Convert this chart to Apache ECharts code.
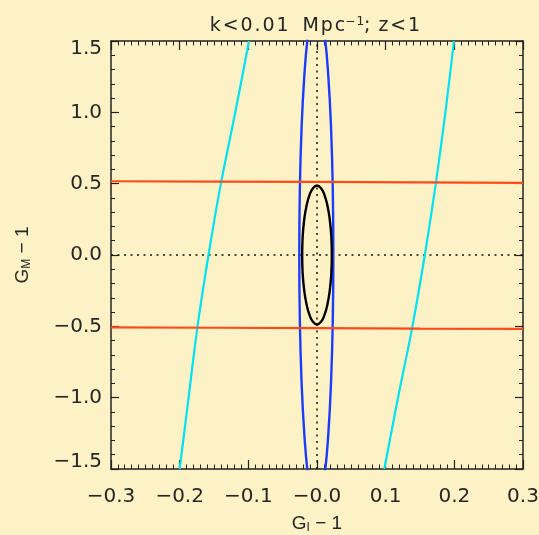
<!DOCTYPE html>
<html>
<head>
<meta charset="utf-8">
<script src="https://cdn.jsdelivr.net/npm/echarts@6/dist/echarts.min.js"></script>
<style>
html,body{margin:0;padding:0;background:#fdf1c6;}
#chart{width:539px;height:535px;}
</style>
</head>
<body>
<div id="chart"></div>
<script>
// Tick labels
const xTickLabels = ["\u22120.3", "\u22120.2", "\u22120.1", "\u22120.0", "0.1", "0.2", "0.3"];
const yTickLabels = ["\u22121.5", "\u22121.0", "\u22120.5", "0.0", "0.5", "1.0", "1.5"];

// Cyan contours (x values at given y)
const cyanY = [1.5, 1.0, 0.5, 0.0, -0.5, -1.0, -1.5];
const cyanLeftX = [-0.099, -0.119, -0.140, -0.158, -0.174, -0.187, -0.200];
const cyanRightX = [0.1995, 0.187, 0.173, 0.157, 0.139, 0.118, 0.098];

// Orange-red contours
const orangeX = [-0.3, -0.15, 0.0, 0.15, 0.3];
const orangeUpperY = [0.517, 0.515, 0.512, 0.509, 0.506];
const orangeLowerY = [-0.507, -0.510, -0.513, -0.516, -0.518];

// Blue ellipse outline points (x, y)
const blueX = [0.0238, 0.0230, 0.0205, 0.0165, 0.0114, 0.0054, -0.0010, -0.0074, -0.0134, -0.0185, -0.0225, -0.0250, -0.0258,
               -0.0250, -0.0225, -0.0185, -0.0134, -0.0074, -0.0010, 0.0054, 0.0114, 0.0165, 0.0205, 0.0230, 0.0238];
const blueY = [0.0, 0.458, 0.885, 1.252, 1.533, 1.710, 1.770, 1.710, 1.533, 1.252, 0.885, 0.458, 0.0,
               -0.458, -0.885, -1.252, -1.533, -1.710, -1.770, -1.710, -1.533, -1.252, -0.885, -0.458, 0.0];

// Black ellipse outline points (x, y)
const blackX = [0.0216, 0.0209, 0.0187, 0.0153, 0.0108, 0.0056, 0.0, -0.0056, -0.0108, -0.0153, -0.0187, -0.0209, -0.0216,
                -0.0209, -0.0187, -0.0153, -0.0108, -0.0056, 0.0, 0.0056, 0.0108, 0.0153, 0.0187, 0.0209, 0.0216];
const blackY = [0.0, 0.126, 0.244, 0.344, 0.422, 0.470, 0.487, 0.470, 0.422, 0.344, 0.244, 0.126, 0.0,
                -0.126, -0.244, -0.344, -0.422, -0.470, -0.487, -0.470, -0.422, -0.344, -0.244, -0.126, 0.0];

// Reference dotted lines
const vDotX = [0, 0];
const vDotY = [-1.5, 1.5];
const hDotX = [-0.3, 0.3];
const hDotY = [0, 0];

function zip(xs, ys) { return xs.map((x, i) => [x, ys[i]]); }

const FONT = 'DejaVu Sans';
const NFONT = 'Liberation Sans';
const TXT = '#262626';
const AX = '#222222';

const chart = echarts.init(document.getElementById('chart'), null, {renderer: 'canvas'});

function xAxisBase(pos, showLabels) {
  return {
    type: 'value', position: pos, min: -0.3, max: 0.3, interval: 0.1,
    axisLine: {show: true, onZero: false, lineStyle: {color: AX, width: 1.5}},
    axisTick: {show: true, inside: true, length: 9, lineStyle: {color: AX, width: 1.2}},
    minorTick: {show: true, splitNumber: 10, length: 4.5, lineStyle: {color: AX, width: 1}},
    splitLine: {show: false},
    axisLabel: {
      show: showLabels, margin: 18, fontFamily: FONT, fontSize: 20, color: TXT,
      formatter: v => xTickLabels[Math.round((v + 0.3) * 10)]
    }
  };
}
function yAxisBase(pos, showLabels) {
  return {
    type: 'value', position: pos, min: -1.5, max: 1.5, interval: 0.5,
    axisLine: {show: true, onZero: false, lineStyle: {color: AX, width: 1.5}},
    axisTick: {show: true, inside: true, length: 8, lineStyle: {color: AX, width: 1.2}},
    minorTick: {show: true, splitNumber: 5, length: 4, lineStyle: {color: AX, width: 1}},
    splitLine: {show: false},
    axisLabel: {
      show: showLabels, margin: 9, fontFamily: FONT, fontSize: 20, color: TXT, lineHeight: 15,
      verticalAlignMaxLabel: 'top', verticalAlignMinLabel: 'bottom',
      formatter: v => yTickLabels[Math.round((v + 1.5) * 2)]
    }
  };
}

const nameRich = {
  n: {fontFamily: NFONT, fontSize: 19, color: TXT, fontWeight: 'normal'},
  s: {fontFamily: NFONT, fontSize: 12, color: TXT, fontWeight: 'normal', verticalAlign: 'bottom', padding: [8, 0, 0, 0]}
};

const xBottom = xAxisBase('bottom', true);
xBottom.name = '{n|G}{s|I}{n| \u2212 1}';
xBottom.nameLocation = 'middle';
xBottom.nameGap = 45;
xBottom.nameTextStyle = {rich: nameRich};
const yLeft = yAxisBase('left', true);
yLeft.name = '{n|G}{s|M}{n| \u2212 1}';
yLeft.nameLocation = 'middle';
yLeft.nameGap = 78;
yLeft.nameTextStyle = {rich: nameRich};

function lineSeries(data, color, width, extra) {
  return Object.assign({
    type: 'line', data: data, showSymbol: false, symbol: 'none', smooth: false,
    xAxisIndex: 0, yAxisIndex: 0, clip: true, silent: true, animation: false,
    lineStyle: {color: color, width: width}
  }, extra || {});
}

const H = '\u200A';
const option = {
  backgroundColor: '#fdf1c6',
  animation: false,
  title: {
    text: '{n|k' + H + '<' + H + '0' + H + '.' + H + '0' + H + '1' + H + '  M' + H + 'p' + H + 'c}{p|\u2212' + H + '1}{n|;' + H + ' z' + H + '<' + H + '1}',
    left: 310, top: 11, textAlign: 'center',
    textStyle: {
      fontWeight: 'normal',
      rich: {
        n: {fontFamily: FONT, fontSize: 19, color: TXT, fontWeight: 'normal'},
        p: {fontFamily: FONT, fontSize: 12, color: TXT, fontWeight: 'normal', verticalAlign: 'top', padding: [0, 0, 8, 0]}
      }
    }
  },
  grid: {left: 111, right: 16, top: 41, bottom: 66, containLabel: false, outerBoundsMode: 'none'},
  xAxis: [xBottom, xAxisBase('top', false)],
  yAxis: [yLeft, yAxisBase('right', false)],
  series: [
    lineSeries(zip(vDotX, vDotY), '#111', 1.5, {lineStyle: {color: '#111', width: 1.5, type: [2, 4.5]}}),
    lineSeries(zip(hDotX, hDotY), '#111', 1.5, {lineStyle: {color: '#111', width: 1.5, type: [2, 4.5]}}),
    lineSeries(zip(cyanLeftX, cyanY), '#00e2f4', 2.2, {smooth: 0.3}),
    lineSeries(zip(cyanRightX, cyanY), '#00e2f4', 2.2, {smooth: 0.3}),
    lineSeries(zip(blueX, blueY), '#1a3cff', 2.4, {smooth: 0.5}),
    lineSeries(zip(blackX, blackY), '#000000', 2.4, {smooth: 0.5}),
    lineSeries(zip(orangeX, orangeUpperY), '#ff4a1c', 2.2),
    lineSeries(zip(orangeX, orangeLowerY), '#ff4a1c', 2.2)
  ]
};
chart.setOption(option);
</script>
</body>
</html>
